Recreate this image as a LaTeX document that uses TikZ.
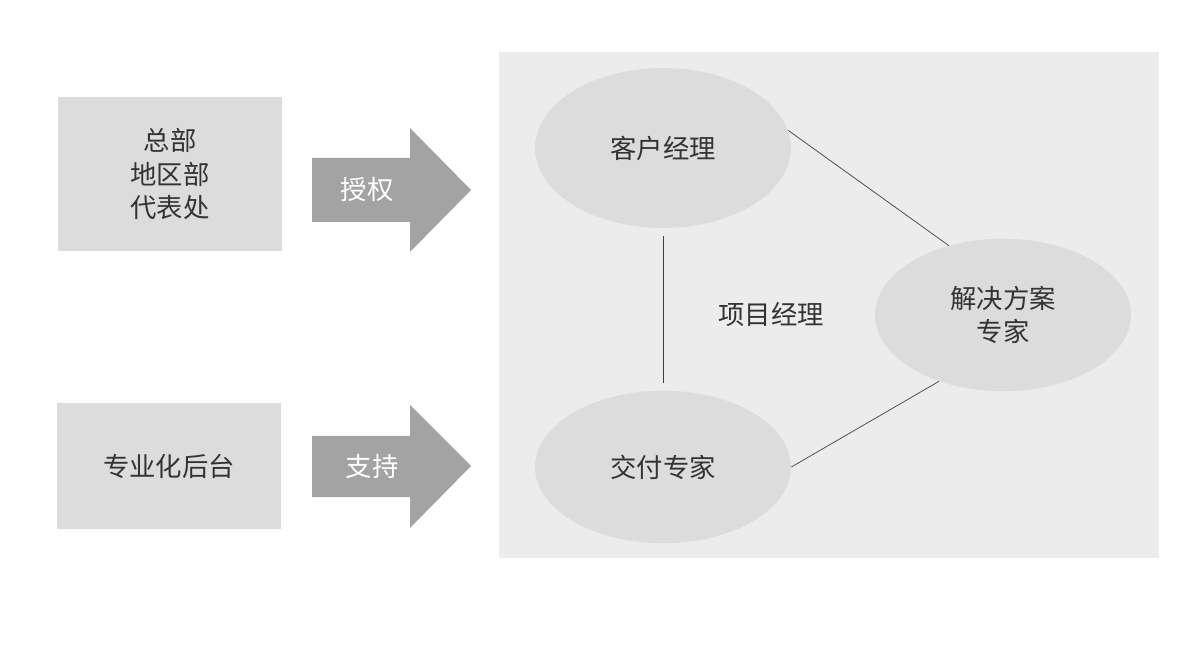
\documentclass[tikz,border=0pt]{standalone}
\usepackage{fontspec}
\newfontfamily\cjk{Noto Sans CJK SC}
\usetikzlibrary{shapes.geometric}
\definecolor{boxgray}{HTML}{DCDCDC}
\definecolor{panelgray}{HTML}{ECECEC}
\definecolor{arrowgray}{HTML}{A3A3A3}
\tikzset{
	every node/.style={
		font=\cjk\fontsize{15}{19}\selectfont,
		text=black!80
	},
	leftbox/.style={
		shape=rectangle,
		fill=boxgray,
		minimum width=4.48cm,
		align=center
	},
	role/.style={
		shape=ellipse,
		fill=boxgray,
		minimum width=5.12cm,
		minimum height=3.05cm,
		align=center
	},
	bigarrow/.style={
		fill=arrowgray
	},
	link/.style={
		draw=black!75,
		thin
	}
}
\begin{document}
\begin{tikzpicture}[x=0.02cm,y=-0.02cm]
	\useasboundingbox (0,0) rectangle (1192,671);
	\fill[white] (0,0) rectangle (1192,671);

	% Rechte Flaeche
	\fill[panelgray] (499,52) rectangle (1159,558);

	% Linke Kaesten
	\node[leftbox, minimum height=3.1cm] (hq)   at (170,174) {总部\\地区部\\代表处};
	\node[leftbox, minimum height=2.52cm] (back) at (169,466) {专业化后台};

	% Pfeile
	\fill[bigarrow] (312,158) -- (410,158) -- (410,128) -- (471,190)
		-- (410,252) -- (410,222) -- (312,222) -- cycle;
	\node[text=white] (auth) at (367,190) {授权};
	\fill[bigarrow] (312,436) -- (410,436) -- (410,405) -- (471,466)
		-- (410,528) -- (410,497) -- (312,497) -- cycle;
	\node[text=white] (supp) at (372,466) {支持};

	% Rollen
	\node[role, minimum height=3.2cm] (acct)  at (663,148) {客户经理};
	\node[role] (deliv) at (663,467) {交付专家};
	\node[role] (sol)   at (1003,315) {解决方案\\专家};
	\node (pm) at (771,314) {项目经理};

	\draw[link] ([yshift=-0.15cm]acct.south) -- ([yshift=0.15cm]deliv.north);
	\draw[link] (acct.8) -- (sol.128);
	\draw[link] (deliv.0) -- (sol.226);
\end{tikzpicture}
\end{document}
